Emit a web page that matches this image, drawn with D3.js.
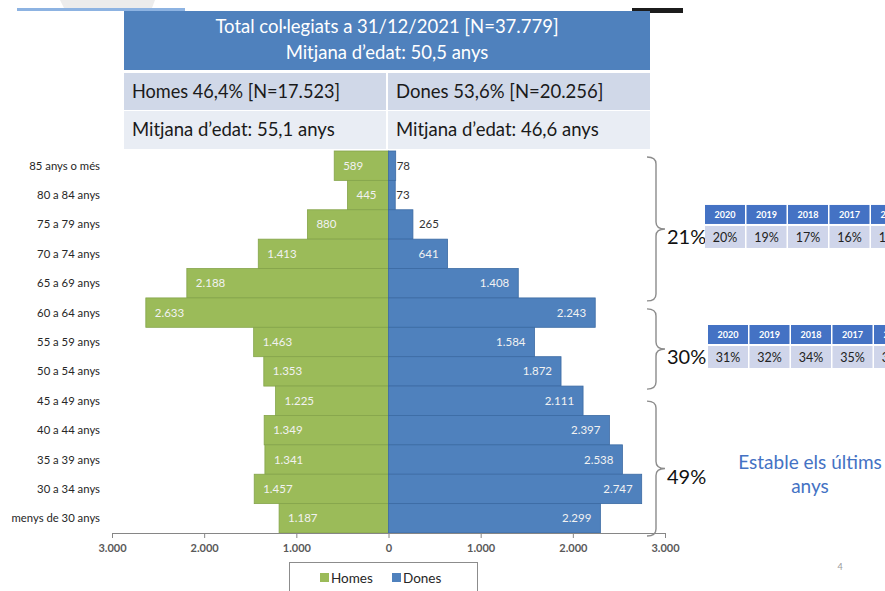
<!DOCTYPE html>
<html>
<head>
<meta charset="utf-8">
<script src="https://cdn.jsdelivr.net/npm/d3@7"></script>
<style>
  html, body { margin: 0; padding: 0; background: #fff; }
  svg { display: block; font-family: Lato, "Noto Sans", sans-serif; }
</style>
</head>
<body>
<div id="piramide"></div>
<script>
// dades
const ageGroups = ['85 anys o més', '80 a 84 anys', '75 a 79 anys', '70 a 74 anys', '65 a 69 anys',
    '60 a 64 anys', '55 a 59 anys', '50 a 54 anys', '45 a 49 anys', '40 a 44 anys',
    '35 a 39 anys', '30 a 34 anys', 'menys de 30 anys'];
const homes = [589, 445, 880, 1413, 2188, 2633, 1463, 1353, 1225, 1349, 1341, 1457, 1187];
const dones = [78, 73, 265, 641, 1408, 2243, 1584, 1872, 2111, 2397, 2538, 2747, 2299];
const xTicks = [-3000, -2000, -1000, 0, 1000, 2000, 3000];

const titleLines = ['Total col·legiats a 31/12/2021 [N=37.779]', 'Mitjana d\u2019edat: 50,5 anys'];
const sexRows = [
    ['Homes 46,4% [N=17.523]', 'Dones 53,6% [N=20.256]'],
    ['Mitjana d\u2019edat: 55,1 anys', 'Mitjana d\u2019edat: 46,6 anys']
];

const groupLabels = ['21%', '30%', '49%'];
const groupFirst = ['85 anys o més', '60 a 64 anys', '45 a 49 anys'];
const groupLast = ['65 a 69 anys', '50 a 54 anys', 'menys de 30 anys'];
const years = ['2020', '2019', '2018', '2017', '2016'];
const share65plus = ['20%', '19%', '17%', '16%', '15%'];
const share50to64 = ['31%', '32%', '34%', '35%', '36%'];
const historyTables = [share65plus, share50to64, null];

const width = 885;
const height = 591;
const green = '#9bbb59';
const blue = '#4f81bd';

const svg = d3.select('#piramide')
    .append('svg')
    .attr('width', width)
    .attr('height', height);

const fmt = d3.formatLocale({ decimal: ',', thousands: '.', grouping: [3], currency: ['', '€'] }).format(',');

// si el text no hi cap, l'estrenyem
function squeeze(sel, maxW) {
    sel.each(function() {
        if (this.getComputedTextLength() > maxW) {
            d3.select(this).attr('textLength', maxW).attr('lengthAdjust', 'spacingAndGlyphs');
        }
    });
}

// restes de la diapositiva a dalt
svg.append('path').attr('d', 'M60,0 L155,0 L152,8 L64,8 Z').attr('fill', '#ececec');
svg.append('rect').attr('x', 17).attr('y', 8).attr('width', 168).attr('height', 3).attr('fill', '#8db3e2');
svg.append('rect').attr('x', 632).attr('y', 8).attr('width', 51).attr('height', 5).attr('fill', '#1c1c1c');

// capçalera
const head = svg.append('g');
head.append('rect').attr('x', 124).attr('y', 11).attr('width', 526).attr('height', 59).attr('fill', blue);
head.selectAll('.title')
    .data(titleLines)
    .enter()
    .append('text')
    .attr('class', 'title')
    .attr('x', 387)
    .attr('y', (d, i) => 33 + i * 26)
    .attr('text-anchor', 'middle')
    .attr('fill', '#fff')
    .attr('font-size', 18.5)
    .text(d => d)
    .call(squeeze, 345);

const rowY = [73, 111];
const rowH = [37, 38];
const rowFill = ['#d0d8e8', '#e9edf4'];
sexRows.forEach((row, r) => {
    row.forEach((txt, c) => {
        const x0 = c === 0 ? 124 : 388;
        head.append('rect')
            .attr('x', x0).attr('y', rowY[r])
            .attr('width', 262).attr('height', rowH[r])
            .attr('fill', rowFill[r]);
        head.append('text')
            .attr('x', x0 + 8)
            .attr('y', rowY[r] + rowH[r] / 2 + 6)
            .attr('fill', '#1a1a1a')
            .attr('font-size', 18.5)
            .text(txt)
            .call(squeeze, 208);
    });
});

// escales
const x = d3.scaleLinear().domain([-3000, 3000]).range([112, 665]);
const y = d3.scaleBand().domain(ageGroups).range([151, 533]).padding(0);

const rows = ageGroups.map((g, i) => ({ group: g, homes: homes[i], dones: dones[i] }));

// barres homes
svg.selectAll('.bar-h')
    .data(rows)
    .enter()
    .append('rect')
    .attr('class', 'bar-h')
    .attr('x', d => x(-d.homes))
    .attr('y', d => y(d.group))
    .attr('width', d => x(0) - x(-d.homes))
    .attr('height', y.bandwidth())
    .attr('fill', green)
    .attr('stroke', '#84a44a')
    .attr('stroke-width', 0.8);

// barres dones
svg.selectAll('.bar-d')
    .data(rows)
    .enter()
    .append('rect')
    .attr('class', 'bar-d')
    .attr('x', x(0))
    .attr('y', d => y(d.group))
    .attr('width', d => x(d.dones) - x(0))
    .attr('height', y.bandwidth())
    .attr('fill', blue)
    .attr('stroke', '#3b6aa3')
    .attr('stroke-width', 0.8);

// etiquetes homes (dins, a l'extrem)
svg.selectAll('.lab-h')
    .data(rows)
    .enter()
    .append('text')
    .attr('class', 'lab-h')
    .attr('x', d => x(-d.homes) + 9)
    .attr('y', d => y(d.group) + y.bandwidth() / 2 + 4)
    .attr('font-size', 11.5)
    .attr('fill', '#f2f2f2')
    .text(d => fmt(d.homes));

// etiquetes dones: fora si la barra és curta
svg.selectAll('.lab-d')
    .data(rows)
    .enter()
    .append('text')
    .attr('class', 'lab-d')
    .attr('x', d => d.dones < 400 ? x(d.dones) + (d.dones < 100 ? 1 : 6) : x(d.dones) - 9)
    .attr('y', d => y(d.group) + y.bandwidth() / 2 + 4)
    .attr('text-anchor', d => d.dones < 400 ? 'start' : 'end')
    .attr('font-size', 11.5)
    .attr('fill', d => d.dones < 400 ? '#333' : '#f2f2f2')
    .text(d => fmt(d.dones));

// eix categories
svg.selectAll('.cat')
    .data(ageGroups)
    .enter()
    .append('text')
    .attr('class', 'cat')
    .attr('x', 100)
    .attr('y', d => y(d) + y.bandwidth() / 2 + 4)
    .attr('text-anchor', 'end')
    .attr('font-size', 11.3)
    .attr('fill', '#262626')
    .text(d => d);

// eix x
const xAxis = svg.append('g')
    .attr('transform', 'translate(0,533)')
    .call(d3.axisBottom(x).tickValues(xTicks).tickSize(5).tickFormat(d => fmt(Math.abs(d))));
xAxis.select('.domain').attr('stroke', '#868686');
xAxis.selectAll('.tick line').attr('stroke', '#868686');
xAxis.selectAll('.tick text')
    .attr('font-family', 'Lato, sans-serif')
    .attr('font-size', 11)
    .attr('font-weight', 'bold')
    .attr('fill', '#595959')
    .attr('dy', '1em');

// claus i percentatges
function bracePath(top, bottom) {
    const x0 = 647, x1 = 656, x2 = 665, r = 7;
    const mid = (top + bottom) / 2;
    return `M${x0},${top} Q${x1},${top} ${x1},${top + r} L${x1},${mid - r} Q${x1},${mid} ${x2},${mid}` +
        ` Q${x1},${mid} ${x1},${mid + r} L${x1},${bottom - r} Q${x1},${bottom} ${x0},${bottom}`;
}

const braceTopPad = [6, 11, 15];
groupLabels.forEach((label, i) => {
    const top = y(groupFirst[i]) + braceTopPad[i];
    const bottom = y(groupLast[i]) + y.bandwidth() + 3;
    const mid = (top + bottom) / 2;

    svg.append('path')
        .attr('d', bracePath(top, bottom))
        .attr('fill', 'none')
        .attr('stroke', '#8c8c8c')
        .attr('stroke-width', 1.4);

    svg.append('text')
        .attr('x', 667)
        .attr('y', mid + 15)
        .attr('font-size', 20)
        .attr('fill', '#111')
        .text(label);

    const values = historyTables[i];
    if (!values) return;
    const tx = 705 + i * 3;
    const ty = mid - 24;
    const table = svg.append('g').attr('transform', `translate(${tx},${ty})`);
    years.forEach((yr, c) => {
        const cx = c * 41.5;
        table.append('rect').attr('x', cx).attr('y', 0).attr('width', 40).attr('height', 19).attr('fill', '#4472c4');
        table.append('text')
            .attr('x', cx + 20).attr('y', 13)
            .attr('text-anchor', 'middle')
            .attr('font-size', 9).attr('font-weight', 'bold')
            .attr('fill', '#fff')
            .text(yr);
        table.append('rect').attr('x', cx).attr('y', 21).attr('width', 40).attr('height', 22).attr('fill', '#cfd5ea');
        table.append('text')
            .attr('x', cx + 20).attr('y', 37)
            .attr('text-anchor', 'middle')
            .attr('font-size', 12.5)
            .attr('fill', '#222')
            .text(values[c]);
    });
});

// nota
svg.selectAll('.nota')
    .data(['Estable els últims', 'anys'])
    .enter()
    .append('text')
    .attr('class', 'nota')
    .attr('x', 810)
    .attr('y', (d, i) => 469 + i * 24)
    .attr('text-anchor', 'middle')
    .attr('font-size', 19)
    .attr('fill', '#4472c4')
    .text(d => d);

svg.append('text')
    .attr('x', 840).attr('y', 570)
    .attr('text-anchor', 'middle')
    .attr('font-size', 9)
    .attr('fill', '#999')
    .text('4');

// llegenda
const legend = svg.append('g');
legend.append('rect')
    .attr('x', 289.5).attr('y', 562.5)
    .attr('width', 188).attr('height', 40)
    .attr('fill', '#fff')
    .attr('stroke', '#8c8c8c');
[['Homes', green], ['Dones', blue]].forEach(([name, color], i) => {
    const lx = 320 + i * 72;
    legend.append('rect').attr('x', lx).attr('y', 573).attr('width', 9).attr('height', 9).attr('fill', color);
    legend.append('text')
        .attr('x', lx + 11).attr('y', 583)
        .attr('font-size', 13.5)
        .attr('fill', '#262626')
        .text(name);
});
</script>
</body>
</html>
